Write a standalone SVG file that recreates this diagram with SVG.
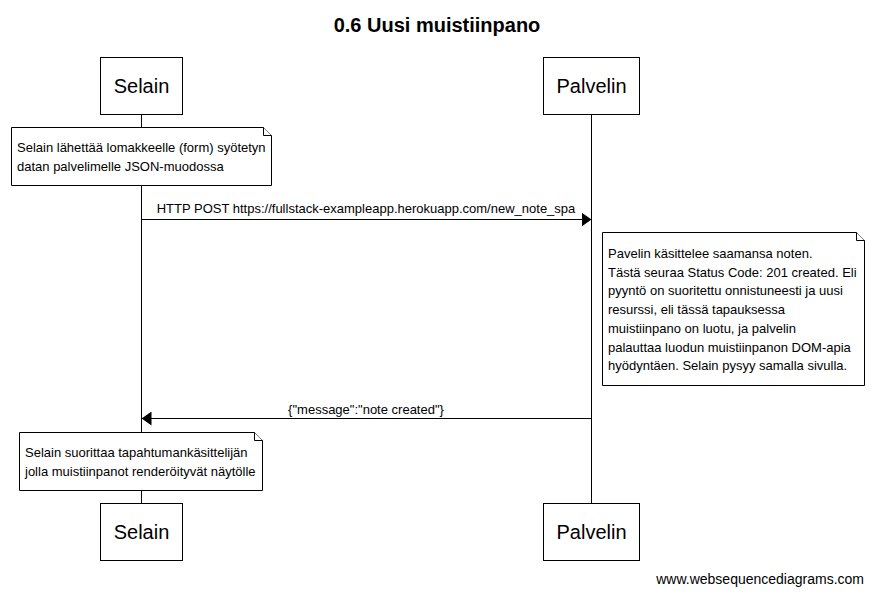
<svg xmlns="http://www.w3.org/2000/svg" width="873" height="595" viewBox="0 0 873 595">
<style>
text{font-family:"Liberation Sans",Arial,sans-serif;fill:#000}
.title{font-size:20px;font-weight:bold;text-anchor:middle}
.part{font-size:20px;text-anchor:middle}
.note{font-size:13px}
.msg{font-size:13px;text-anchor:middle}
.foot{font-size:14px;text-anchor:end}
.box{fill:#fff;stroke:#000;stroke-width:1}
.life{stroke:#000;stroke-width:1;fill:none}
.arrow{stroke:#000;stroke-width:1;fill:none}
</style>
<defs>
<marker id="ah" viewBox="0 0 10 14" refX="10" refY="7" markerWidth="10" markerHeight="14" markerUnits="userSpaceOnUse" orient="auto">
<path d="M0,0 L10,7 L0,14 Z" fill="#000"/>
</marker>
</defs>
<rect width="873" height="595" fill="#fff"/>
<text class="title" x="437" y="32">0.6 Uusi muistiinpano</text>
<g id="lifelines">
<line class="life" x1="141.5" y1="114" x2="141.5" y2="503"/>
<line class="life" x1="591.5" y1="114" x2="591.5" y2="503"/>
</g>
<g id="selain-top">
<rect class="box" x="100.5" y="57.5" width="82" height="57"/>
<text class="part" x="141.5" y="93">Selain</text>
</g>
<g id="palvelin-top">
<rect class="box" x="543.5" y="57.5" width="96" height="57"/>
<text class="part" x="591.5" y="93">Palvelin</text>
</g>
<g id="selain-bottom">
<rect class="box" x="100.5" y="503.5" width="82" height="57"/>
<text class="part" x="141.5" y="539">Selain</text>
</g>
<g id="palvelin-bottom">
<rect class="box" x="543.5" y="503.5" width="96" height="57"/>
<text class="part" x="591.5" y="539">Palvelin</text>
</g>
<g id="note1">
<path class="box" d="M11.5,127.5 H263.5 L271.5,135.5 V185.5 H11.5 Z"/>
<path class="box" d="M263.5,127.5 V135.5 H271.5"/>
<text class="note" x="17" y="152">Selain lähettää lomakkeelle (form) syötetyn</text>
<text class="note" x="17" y="171">datan palvelimelle JSON-muodossa</text>
</g>
<g id="note2">
<path class="box" d="M602.5,232.5 H856.5 L864.5,240.5 V385.5 H602.5 Z"/>
<path class="box" d="M856.5,232.5 V240.5 H864.5"/>
<text class="note" x="608" y="258">Pavelin käsittelee saamansa noten.</text>
<text class="note" x="608" y="276.7">Tästä seuraa Status Code: 201 created. Eli</text>
<text class="note" x="608" y="295.4">pyyntö on suoritettu onnistuneesti ja uusi</text>
<text class="note" x="608" y="314.1">resurssi, eli tässä tapauksessa</text>
<text class="note" x="608" y="332.8">muistiinpano on luotu, ja palvelin</text>
<text class="note" x="608" y="351.5">palauttaa luodun muistiinpanon DOM-apia</text>
<text class="note" x="608" y="370.2">hyödyntäen. Selain pysyy samalla sivulla.</text>
</g>
<g id="note3">
<path class="box" d="M19.5,432.5 H254.5 L262.5,440.5 V490.5 H19.5 Z"/>
<path class="box" d="M254.5,432.5 V440.5 H262.5"/>
<text class="note" x="25" y="457">Selain suorittaa tapahtumankäsittelijän</text>
<text class="note" x="25" y="476">jolla muistiinpanot renderöityvät näytölle</text>
</g>
<g id="connectors">
<line class="arrow" x1="141.5" y1="219.5" x2="591.5" y2="219.5" marker-end="url(#ah)"/>
<text class="msg" x="366" y="213">HTTP POST https://fullstack-exampleapp.herokuapp.com/new_note_spa</text>
<line class="arrow" x1="591.5" y1="418.5" x2="141.5" y2="418.5" marker-end="url(#ah)"/>
<text class="msg" x="366" y="414">{"message":"note created"}</text>
</g>
<text class="foot" x="864" y="584">www.websequencediagrams.com</text>
</svg>
